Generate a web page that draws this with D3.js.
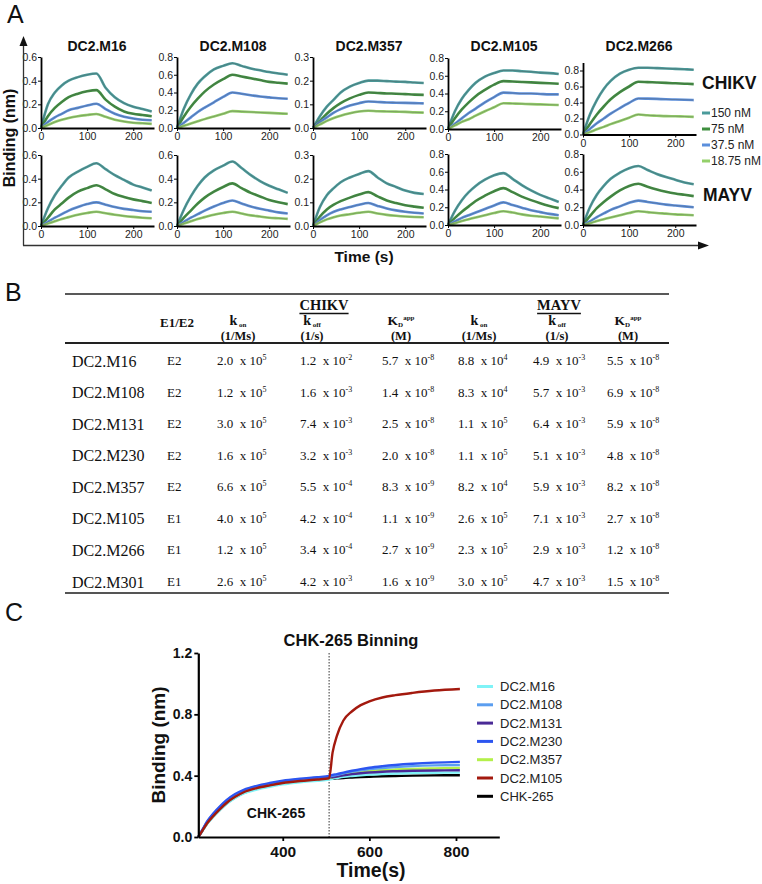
<!DOCTYPE html>
<html><head><meta charset="utf-8">
<script src="https://cdn.jsdelivr.net/npm/d3@7"></script>
<style>body{margin:0;background:#fff}svg{display:block}</style>
</head><body>
<svg id="fig" width="762" height="884"></svg>
<script>
// ================= DATA =================
// Panel A: BLI kinetics (association 0-120 s, dissociation 120-240 s)
const kinTimes = [0,15,30,45,60,80,100,120,140,160,180,200,220,240];
const kinAntibodies = ["DC2.M16","DC2.M108","DC2.M357","DC2.M105","DC2.M266"];
const concLabels = ["150 nM","75 nM","37.5 nM","18.75 nM"];
const kinYTicks = [0.2,0.2,0.1,0.2,0.2];
const chikvYMax = [0.6,0.8,0.3,0.8,0.9];
const mayvYMax  = [0.6,0.6,0.3,0.8,0.8];
const kinXTicks = [0,100,200];

const chikvM16 = [
 [0,0.20,0.30,0.36,0.40,0.43,0.45,0.46,0.34,0.26,0.21,0.18,0.16,0.14],
 [0,0.10,0.17,0.22,0.26,0.29,0.31,0.32,0.24,0.18,0.14,0.12,0.11,0.10],
 [0,0.05,0.09,0.12,0.15,0.17,0.19,0.205,0.16,0.12,0.095,0.08,0.07,0.065],
 [0,0.025,0.05,0.07,0.085,0.10,0.11,0.118,0.095,0.07,0.055,0.045,0.04,0.035]];
const chikvM108 = [
 [0,0.22,0.38,0.50,0.58,0.66,0.70,0.73,0.70,0.67,0.65,0.63,0.615,0.60],
 [0,0.13,0.24,0.33,0.41,0.49,0.55,0.60,0.58,0.56,0.54,0.52,0.51,0.50],
 [0,0.06,0.12,0.18,0.23,0.29,0.35,0.40,0.385,0.37,0.355,0.345,0.335,0.33],
 [0,0.025,0.05,0.075,0.10,0.13,0.16,0.19,0.185,0.18,0.175,0.17,0.165,0.16]];
const chikvM357 = [
 [0,0.05,0.09,0.12,0.15,0.175,0.19,0.20,0.20,0.198,0.196,0.195,0.192,0.19],
 [0,0.03,0.06,0.085,0.105,0.125,0.14,0.15,0.148,0.146,0.145,0.143,0.141,0.14],
 [0,0.025,0.045,0.065,0.08,0.095,0.105,0.112,0.11,0.108,0.107,0.106,0.105,0.104],
 [0,0.015,0.03,0.042,0.052,0.062,0.07,0.073,0.071,0.07,0.069,0.068,0.066,0.065]];
const chikvM105 = [
 [0,0.20,0.34,0.44,0.52,0.59,0.63,0.66,0.66,0.65,0.645,0.635,0.63,0.62],
 [0,0.12,0.22,0.30,0.37,0.44,0.50,0.54,0.535,0.53,0.525,0.52,0.515,0.51],
 [0,0.06,0.12,0.18,0.23,0.30,0.36,0.41,0.405,0.40,0.40,0.395,0.39,0.39],
 [0,0.04,0.08,0.11,0.15,0.20,0.245,0.29,0.287,0.284,0.28,0.277,0.274,0.27]];
const chikvM266 = [
 [0,0.25,0.43,0.57,0.67,0.76,0.81,0.835,0.835,0.83,0.825,0.82,0.815,0.81],
 [0,0.13,0.25,0.35,0.44,0.53,0.60,0.66,0.655,0.65,0.645,0.64,0.635,0.63],
 [0,0.07,0.14,0.20,0.26,0.33,0.395,0.45,0.448,0.445,0.44,0.437,0.434,0.43],
 [0,0.03,0.065,0.095,0.13,0.17,0.21,0.25,0.24,0.235,0.23,0.228,0.225,0.22]];
const mayvM16 = [
 [0,0.15,0.26,0.34,0.41,0.46,0.50,0.53,0.48,0.43,0.39,0.35,0.325,0.30],
 [0,0.07,0.14,0.19,0.24,0.29,0.32,0.345,0.31,0.27,0.245,0.225,0.21,0.195],
 [0,0.035,0.07,0.10,0.13,0.16,0.185,0.20,0.18,0.16,0.145,0.135,0.125,0.12],
 [0,0.02,0.04,0.06,0.075,0.095,0.11,0.12,0.108,0.095,0.085,0.077,0.07,0.065]];
const mayvM108 = [
 [0,0.14,0.25,0.34,0.41,0.47,0.51,0.545,0.49,0.43,0.38,0.34,0.31,0.28],
 [0,0.07,0.13,0.19,0.24,0.29,0.33,0.36,0.32,0.28,0.25,0.22,0.20,0.185],
 [0,0.035,0.07,0.10,0.13,0.165,0.195,0.215,0.19,0.165,0.145,0.13,0.115,0.105],
 [0,0.02,0.04,0.06,0.075,0.095,0.11,0.12,0.105,0.09,0.08,0.07,0.065,0.06]];
const mayvM357 = [
 [0,0.08,0.13,0.16,0.185,0.205,0.22,0.232,0.205,0.18,0.165,0.15,0.14,0.135],
 [0,0.04,0.07,0.09,0.105,0.12,0.133,0.143,0.125,0.108,0.097,0.088,0.082,0.077],
 [0,0.025,0.045,0.06,0.07,0.08,0.09,0.097,0.085,0.074,0.066,0.06,0.056,0.053],
 [0,0.015,0.028,0.037,0.044,0.05,0.056,0.06,0.053,0.047,0.043,0.04,0.038,0.037]];
const mayvM105 = [
 [0,0.16,0.28,0.37,0.44,0.51,0.56,0.585,0.52,0.45,0.39,0.34,0.30,0.26],
 [0,0.08,0.15,0.21,0.27,0.33,0.38,0.415,0.37,0.32,0.28,0.245,0.215,0.19],
 [0,0.04,0.08,0.11,0.14,0.18,0.22,0.255,0.225,0.195,0.165,0.145,0.125,0.11],
 [0,0.02,0.045,0.065,0.085,0.11,0.135,0.155,0.14,0.12,0.105,0.095,0.085,0.075]];
const mayvM266 = [
 [0,0.20,0.34,0.44,0.52,0.59,0.64,0.665,0.62,0.575,0.54,0.51,0.48,0.46],
 [0,0.10,0.19,0.26,0.32,0.39,0.44,0.465,0.43,0.40,0.375,0.355,0.34,0.325],
 [0,0.04,0.09,0.13,0.17,0.21,0.25,0.275,0.26,0.245,0.23,0.22,0.21,0.20],
 [0,0.02,0.045,0.065,0.085,0.11,0.135,0.155,0.145,0.135,0.128,0.12,0.115,0.11]];

// Panel B: kinetics table
const tableAntibodies = ["DC2.M16","DC2.M108","DC2.M131","DC2.M230","DC2.M357","DC2.M105","DC2.M266","DC2.M301"];
const tableEpitope = ["E2","E2","E2","E2","E2","E1","E1","E1"];
const chikvKon  = [2.0e5,1.2e5,3.0e5,1.6e5,6.6e5,4.0e5,1.2e5,2.6e5];
const chikvKoff = [1.2e-2,1.6e-3,7.4e-3,3.2e-3,5.5e-4,4.2e-4,3.4e-4,4.2e-3];
const chikvKD   = [5.7e-8,1.4e-8,2.5e-8,2.0e-8,8.3e-9,1.1e-9,2.7e-9,1.6e-9];
const mayvKon   = [8.8e4,8.3e4,1.1e5,1.1e5,8.2e4,2.6e5,2.3e5,3.0e5];
const mayvKoff  = [4.9e-3,5.7e-3,6.4e-3,5.1e-3,5.9e-3,7.1e-3,2.9e-3,4.7e-3];
const mayvKD    = [5.5e-8,6.9e-8,5.9e-8,4.8e-8,8.2e-8,2.7e-8,1.2e-8,1.5e-8];

// Panel C: CHK-265 binning
const binTimes = [205,215,225,240,255,270,290,310,340,370,400,440,480,507,515,525,540,560,580,600,630,660,700,750,809];
const binSeriesNames = ["DC2.M16","DC2.M108","DC2.M131","DC2.M230","DC2.M357","DC2.M105","CHK-265"];
const binM16  = [0,0.042,0.084,0.132,0.175,0.214,0.254,0.284,0.31,0.328,0.343,0.357,0.367,0.375, 0.38,0.385,0.392,0.398,0.403,0.407,0.411,0.414,0.417,0.419,0.42];
const binM108 = [0,0.048,0.097,0.15,0.195,0.235,0.275,0.303,0.33,0.348,0.363,0.376,0.386,0.394, 0.40,0.405,0.415,0.426,0.435,0.443,0.45,0.456,0.462,0.467,0.47];
const binM131 = [0,0.047,0.094,0.146,0.19,0.23,0.27,0.30,0.326,0.344,0.359,0.372,0.382,0.39, 0.39,0.394,0.402,0.41,0.416,0.421,0.426,0.429,0.432,0.434,0.435];
const binM230 = [0,0.05,0.10,0.155,0.20,0.24,0.28,0.308,0.334,0.352,0.367,0.38,0.39,0.398, 0.405,0.41,0.42,0.432,0.443,0.452,0.462,0.47,0.478,0.485,0.49];
const binM357 = [0,0.045,0.09,0.14,0.185,0.225,0.265,0.295,0.322,0.34,0.355,0.368,0.378,0.385, 0.39,0.395,0.405,0.415,0.423,0.43,0.436,0.44,0.444,0.447,0.45];
const binM105 = [0,0.044,0.088,0.138,0.182,0.222,0.262,0.292,0.319,0.337,0.352,0.365,0.375,0.383, 0.55,0.66,0.76,0.82,0.86,0.885,0.91,0.925,0.94,0.955,0.965];
const binCHK  = [0,0.043,0.086,0.135,0.178,0.218,0.258,0.288,0.315,0.333,0.348,0.362,0.372,0.38, 0.38,0.382,0.385,0.388,0.391,0.393,0.396,0.398,0.40,0.402,0.403];
const binYTicks = [0,0.4,0.8,1.2];
const binXTicks = [400,600,800];
const binSwitchTime = 507;

// ================= STYLE =================
const sans = "'Liberation Sans', Arial, sans-serif";
const narrow = "'Liberation Sans Narrow', 'Liberation Sans', Arial, sans-serif";
const serif = "'Liberation Serif', 'Times New Roman', serif";
const concColors = ["#4a9b9b","#3f8f3f","#5b8fdc","#94d06a"];
const binColors = ["#7ff3f7","#5b9ef0","#4a2a96","#2c55f0","#b4f04a","#a3190e","#000000"];

const svg = d3.select("#fig");

// panel letters
[["A",7,23],["B",5,301],["C",5,621]].forEach(([t,x,y])=>{
  svg.append("text").attr("x",x).attr("y",y).attr("font-family",sans)
    .attr("font-size",25).attr("fill","#111").text(t);
});

// ================= PANEL A =================
const colLeft = [41,177,313,448,583];
const kinW = 113;
const rowsA = [
  {data:[chikvM16,chikvM108,chikvM357,chikvM105,chikvM266], ymax:chikvYMax,
   zero:[128,128,128,129,134.5], top:[57,57,57,58,62.5]},
  {data:[mayvM16,mayvM108,mayvM357,mayvM105,mayvM266], ymax:mayvYMax,
   zero:[226,226,226,225,225], top:[155,155,155,154,154]}
];

rowsA.forEach((row,ri)=>{
  row.data.forEach((series,ci)=>{
    const x = d3.scaleLinear().domain([0,245]).range([colLeft[ci],colLeft[ci]+kinW]);
    const y = d3.scaleLinear().domain([0,row.ymax[ci]]).range([row.zero[ci],row.top[ci]]);
    const g = svg.append("g");
    const line = d3.line().x((d,i)=>x(kinTimes[i])).y(d=>y(d)).curve(d3.curveMonotoneX);
    series.forEach((s,si)=>{
      g.append("path").attr("d",line(s)).attr("fill","none")
        .attr("stroke",concColors[si]).attr("stroke-width",2.6);
    });
    series.forEach((s)=>{
      g.append("path").attr("d",line(s)).attr("fill","none")
        .attr("stroke","#555").attr("stroke-width",0.7).attr("opacity",0.55);
    });
    const step = kinYTicks[ci];
    const nT = Math.floor(row.ymax[ci]/step + 1e-6);
    const yt = d3.range(0, nT+1).map(i=>+(i*step).toFixed(2));
    const yAxis = d3.axisLeft(y).tickValues(yt)
      .tickFormat(d3.format(".1f")).tickSize(3).tickSizeOuter(0).tickPadding(1);
    const xAxis = d3.axisBottom(x).tickValues(kinXTicks).tickFormat(d3.format("d"))
      .tickSize(3).tickSizeOuter(0).tickPadding(2);
    const ga = g.append("g").attr("transform",`translate(${colLeft[ci]},0)`).call(yAxis);
    const gb = g.append("g").attr("transform",`translate(0,${row.zero[ci]})`).call(xAxis);
    [ga,gb].forEach(a=>{
      a.select(".domain").attr("stroke","#000").attr("stroke-width",1.8);
      a.selectAll(".tick line").attr("stroke","#000").attr("stroke-width",1);
      a.selectAll("text").attr("font-family",narrow).attr("font-size",10.5).attr("fill","#222");
    });
    if(ri===0){
      svg.append("text").attr("x",colLeft[ci]+56).attr("y",51).attr("text-anchor","middle")
        .attr("font-family",sans).attr("font-weight","bold").attr("font-size",14).attr("fill","#111")
        .text(kinAntibodies[ci]);
    }
  });
});

// frame arrows
svg.append("line").attr("x1",23.5).attr("y1",245.5).attr("x2",23.5).attr("y2",44).attr("stroke","#333").attr("stroke-width",1.3);
svg.append("path").attr("d","M23.5,36 L19.5,46 L27.5,46 Z").attr("fill","#111");
svg.append("line").attr("x1",23).attr("y1",245.5).attr("x2",700).attr("y2",245.5).attr("stroke","#333").attr("stroke-width",1.3);
svg.append("path").attr("d","M709,245.5 L698,241.5 L698,249.5 Z").attr("fill","#111");
svg.append("text").attr("transform","translate(15,138) rotate(-90)").attr("text-anchor","middle")
  .attr("font-family",sans).attr("font-weight","bold").attr("font-size",16).attr("fill","#111").text("Binding (nm)");
svg.append("text").attr("x",364).attr("y",262).attr("text-anchor","middle")
  .attr("font-family",sans).attr("font-weight","bold").attr("font-size",15.5).attr("fill","#111").text("Time (s)");

// legend A
svg.append("text").attr("x",702).attr("y",89).attr("font-family",sans).attr("font-weight","bold")
  .attr("font-size",17.5).attr("fill","#111").text("CHIKV");
svg.append("text").attr("x",703).attr("y",201).attr("font-family",sans).attr("font-weight","bold")
  .attr("font-size",17.5).attr("fill","#111").text("MAYV");
concLabels.forEach((c,i)=>{
  const yb = 117 + i*16;
  svg.append("line").attr("x1",702).attr("x2",710).attr("y1",yb-4).attr("y2",yb-4)
    .attr("stroke",concColors[i]).attr("stroke-width",3);
  svg.append("text").attr("x",711).attr("y",yb).attr("font-family",sans).attr("font-size",12)
    .attr("fill","#222").text(c);
});

// ================= PANEL B =================
const tb = svg.append("g").attr("font-family",serif).attr("fill","#111");
const ruleL = 65, ruleR = 669;
tb.append("line").attr("x1",ruleL).attr("x2",ruleR).attr("y1",294).attr("y2",294).attr("stroke","#222").attr("stroke-width",1.6);
tb.append("line").attr("x1",ruleL).attr("x2",ruleR).attr("y1",343).attr("y2",343).attr("stroke","#222").attr("stroke-width",1.8);
tb.append("line").attr("x1",ruleL).attr("x2",ruleR).attr("y1",593).attr("y2",593).attr("stroke","#555").attr("stroke-width",1.8);

[["CHIKV",324],["MAYV",559]].forEach(([t,cx])=>{
  const tx = tb.append("text").attr("x",cx).attr("y",310).attr("text-anchor","middle")
    .attr("font-weight","bold").attr("font-size",14.5).text(t);
  const w = tx.node().getComputedTextLength();
  tb.append("line").attr("x1",cx-w/2).attr("x2",cx+w/2).attr("y1",313.5).attr("y2",313.5).attr("stroke","#111").attr("stroke-width",1.3);
});
tb.append("text").attr("x",177).attr("y",327).attr("text-anchor","middle").attr("font-weight","bold")
  .attr("font-size",13).text("E1/E2");

function kHeader(cx, sub, unit){
  const t = tb.append("text").attr("x",cx).attr("y",325).attr("text-anchor","middle").attr("font-weight","bold").attr("font-size",14);
  t.append("tspan").text("k");
  t.append("tspan").attr("font-size",7).attr("dy",1.5).text("\u00a0"+sub);
  tb.append("text").attr("x",cx).attr("y",340).attr("text-anchor","middle").attr("font-weight","bold")
    .attr("font-size",12.5).text(unit);
}
function kdHeader(cx){
  const t = tb.append("text").attr("x",cx).attr("y",325).attr("text-anchor","middle").attr("font-weight","bold").attr("font-size",13.5);
  t.append("tspan").text("K");
  t.append("tspan").attr("font-size",7).attr("dy",1.5).text("D");
  t.append("tspan").attr("font-size",7).attr("dy",-7).text("app");
  tb.append("text").attr("x",cx).attr("y",340).attr("text-anchor","middle").attr("font-weight","bold")
    .attr("font-size",12.5).text("(M)");
}
kHeader(238,"on","(1/Ms)");
kHeader(312,"off","(1/s)");
kdHeader(401);
kHeader(479,"on","(1/Ms)");
kHeader(557,"off","(1/s)");
kdHeader(628);

const rowY = d3.scalePoint().domain(tableAntibodies).range([361,582]);
const valueCols = [[chikvKon,217],[chikvKoff,300],[chikvKD,382],[mayvKon,458],[mayvKoff,533],[mayvKD,607]];
const sci = d3.format(".1e");
tableAntibodies.forEach((ab,i)=>{
  const yc = rowY(ab);
  tb.append("text").attr("x",72).attr("y",yc+5.5).attr("font-size",16).text(ab);
  tb.append("text").attr("x",167).attr("y",yc+4).attr("font-size",13).text(tableEpitope[i]);
  valueCols.forEach(([arr,x0])=>{
    const [m,e] = sci(arr[i]).split("e");
    const t = tb.append("text").attr("x",x0).attr("y",yc+4).attr("font-size",13);
    t.append("tspan").text(m+"\u00a0\u00a0x 10");
    t.append("tspan").attr("font-size",8).attr("dy",-5).text(String(+e));
  });
});

// ================= PANEL C =================
const binData = [binM16,binM108,binM131,binM230,binM357,binM105,binCHK];
const xC = d3.scaleLinear().domain([205,900]).range([198.3,499.3]);
const yC = d3.scaleLinear().domain([0,1.2]).range([837,653]);
const gc = svg.append("g");
gc.append("line").attr("x1",xC(binSwitchTime)).attr("x2",xC(binSwitchTime)).attr("y1",yC(1.2)).attr("y2",yC(0))
  .attr("stroke","#333").attr("stroke-width",1).attr("stroke-dasharray","1.5,1.5");
const lineC = d3.line().x((d,i)=>xC(binTimes[i])).y(d=>yC(d)).curve(d3.curveMonotoneX);
const drawOrder = [6,0,4,2,1,3,5];
drawOrder.forEach(k=>{
  gc.append("path").attr("d",lineC(binData[k])).attr("fill","none").attr("stroke",binColors[k]).attr("stroke-width",2.4);
});
const yAxC = d3.axisLeft(yC).tickValues(binYTicks).tickFormat(d3.format(".1f")).tickSize(4).tickSizeOuter(0).tickPadding(2);
const xAxC = d3.axisBottom(xC).tickValues(binXTicks).tickFormat(d3.format("d")).tickSize(4).tickSizeOuter(0).tickPadding(5);
const gya = gc.append("g").attr("transform",`translate(${xC(205)},0)`).call(yAxC);
const gxa = gc.append("g").attr("transform",`translate(0,${yC(0)})`).call(xAxC);
[[gya,14],[gxa,15.5]].forEach(([a,fs])=>{
  a.select(".domain").attr("stroke","#000").attr("stroke-width",2.2);
  a.selectAll(".tick line").attr("stroke","#000").attr("stroke-width",1.8);
  a.selectAll("text").attr("font-family",sans).attr("font-weight","bold").attr("font-size",fs).attr("fill","#111");
});
svg.append("text").attr("x",351).attr("y",646).attr("text-anchor","middle").attr("font-family",sans)
  .attr("font-weight","bold").attr("font-size",16.5).attr("fill","#111").text("CHK-265 Binning");
svg.append("text").attr("x",276).attr("y",818).attr("text-anchor","middle").attr("font-family",sans)
  .attr("font-weight","bold").attr("font-size",14).attr("fill","#111").text("CHK-265");
svg.append("text").attr("x",371).attr("y",877).attr("text-anchor","middle").attr("font-family",sans)
  .attr("font-weight","bold").attr("font-size",19.5).attr("fill","#111").text("Time(s)");
svg.append("text").attr("transform","translate(165,745) rotate(-90)").attr("text-anchor","middle").attr("font-family",sans)
  .attr("font-weight","bold").attr("font-size",19).attr("fill","#111").text("Binding (nm)");
binSeriesNames.forEach((n,i)=>{
  const yb = 691 + i*18.3;
  svg.append("line").attr("x1",477).attr("x2",493).attr("y1",yb-4.5).attr("y2",yb-4.5)
    .attr("stroke",binColors[i]).attr("stroke-width",3);
  svg.append("text").attr("x",500).attr("y",yb).attr("font-family",sans).attr("font-size",13)
    .attr("fill","#222").text(n);
});
</script>
</body></html>
